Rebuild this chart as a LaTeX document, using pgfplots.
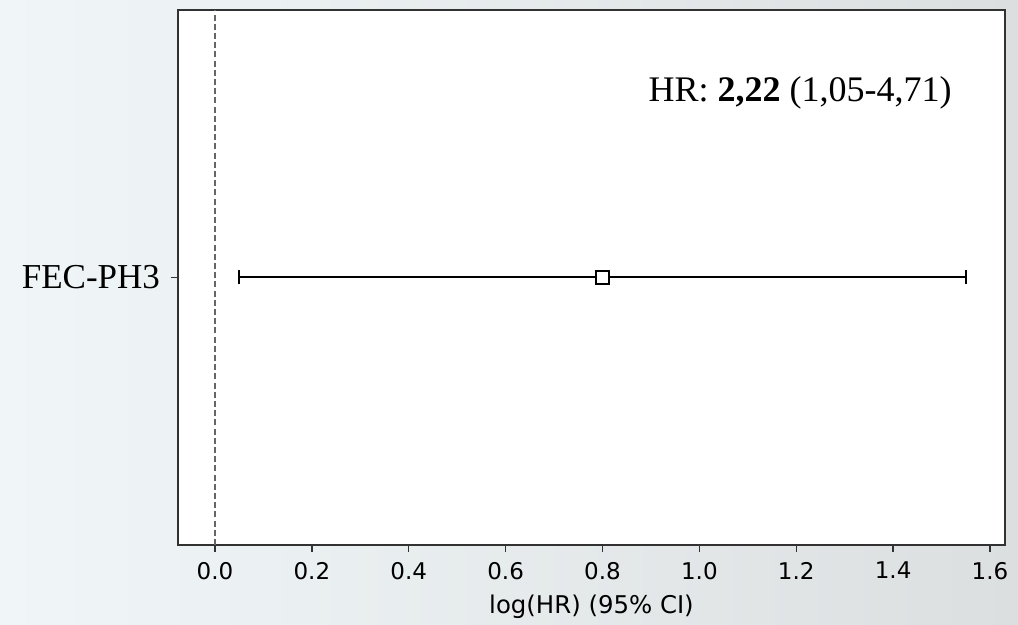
\documentclass[border=0pt]{standalone}
\usepackage{pgfplots}
\pgfplotsset{compat=1.18}
\usepackage{fontspec}
\setmainfont{Liberation Serif}
\newfontfamily\dejavu{DejaVu Sans}
\definecolor{bgL}{RGB}{240,246,248}
\definecolor{bgR}{RGB}{220,223,224}
\definecolor{frame}{RGB}{50,50,50}

\begin{document}
\begin{tikzpicture}
% slide background
\shade[left color=bgL, right color=bgR] (-89pt,-40pt) rectangle (420pt,272.5pt);
\begin{axis}[
  scale only axis,
  width=413.5pt, height=267.5pt,
  xmin=-0.0764, xmax=1.631,
  ymin=-1, ymax=1,
  xtick={0,0.2,...,1.6},
  xticklabels={0.0,0.2,0.4,0.6,0.8,1.0,1.2,1.4,1.6},
  ytick={0}, yticklabels={FEC-PH3},
  tick align=outside,
  tick pos=left,
  major tick length=3.5pt,
  tick style={frame, line width=0.7pt},
  axis line style={frame, line width=0.8pt},
  axis background/.style={fill=white},
  x tick label style={font=\dejavu\fontsize{11.5}{13}\selectfont, yshift=-1.5pt, /pgf/number format/assume math mode=true},
  y tick label style={font=\fontsize{17.5}{19}\selectfont, xshift=-2pt},
  xlabel={log(HR) (95\% CI)},
  xlabel style={font=\dejavu\fontsize{12.2}{14}\selectfont, yshift=-1pt},
]
% reference line at zero
\addplot[gray!80!black, dashed, dash pattern=on 3pt off 1.6pt, line width=0.6pt] coordinates {(0,-1) (0,1)};
% estimate with 95% CI
\addplot[black, line width=1pt, mark=square*, mark size=3.3pt,
  mark options={fill=white, line width=1pt},
  error bars/.cd, x dir=both, x explicit,
  error bar style={line width=1pt},
  error mark options={line width=1pt, mark size=3.5pt, rotate=90}]
  coordinates {(0.8,0) +- (0.75,0)};
\node[font=\fontsize{18}{20}\selectfont] at (axis cs:1.208,0.69) {HR: \textbf{2,22} (1,05-4,71)};
\end{axis}
\pgfresetboundingbox
\useasboundingbox (-89pt,-40pt) rectangle (420pt,272.5pt);
\end{tikzpicture}
\end{document}
